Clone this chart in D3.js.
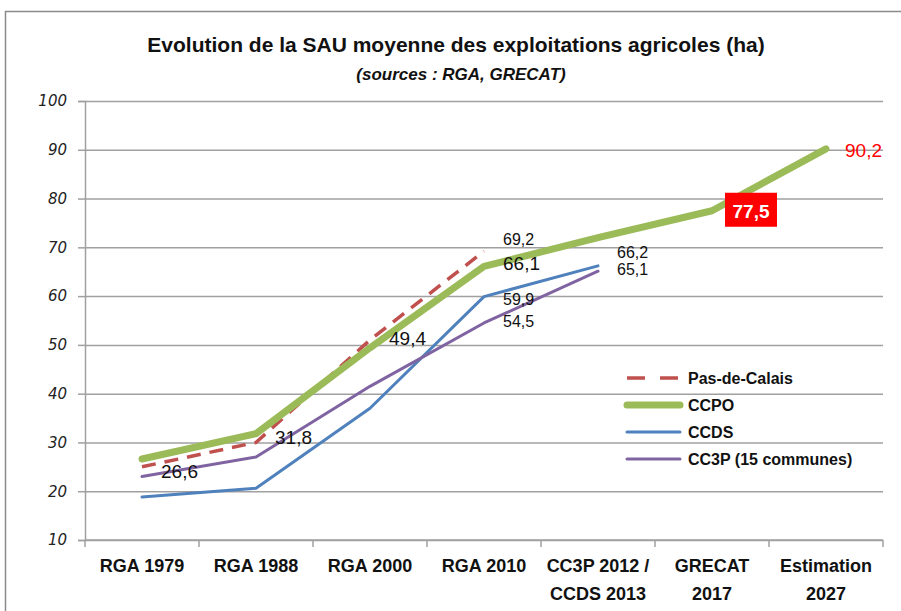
<!DOCTYPE html>
<html>
<head>
<meta charset="utf-8">
<title>SAU moyenne</title>
<script src="https://cdn.jsdelivr.net/npm/d3@7/dist/d3.min.js"></script>
<style>
    body {margin: 0; background: #fff;}
    svg text {font-family: "Liberation Sans", Arial, sans-serif;}
    .grid line {stroke: #a0a0a0; stroke-width: 1.5;}
    .grid path {display: none;}
    .axis path, .axis line {stroke: #a0a0a0; stroke-width: 1.5;}
    .yaxis text {font-family: "DejaVu Sans", sans-serif; font-style: italic; font-size: 15px; fill: #222;}
    .xlab {font-weight: bold; font-size: 18px; fill: #111;}
</style>
</head>
<body>
<div id="chart"></div>
<script>
const categories = ["RGA 1979", "RGA 1988", "RGA 2000", "RGA 2010", "CC3P 2012 /|CCDS 2013", "GRECAT|2017", "Estimation|2027"];
const yTicks = [10, 20, 30, 40, 50, 60, 70, 80, 90, 100];

const seriesNames = ["Pas-de-Calais", "CCPO", "CCDS", "CC3P (15 communes)"];
const pasDeCalais = [25, 30, 51, 69.2, null, null, null];
const ccpo = [26.6, 31.8, 49.4, 66.1, 72, 77.5, 90.2];
const ccds = [18.8, 20.6, 37, 59.9, 66.2, null, null];
const cc3p = [23, 27, 41.5, 54.5, 65.1, null, null];

// labelled points: [series index, category index, text]
const labels = [
    [1, 0, "26,6"], [1, 1, "31,8"], [1, 2, "49,4"], [1, 3, "66,1"],
    [0, 3, "69,2"], [2, 3, "59,9"], [3, 3, "54,5"],
    [2, 4, "66,2"], [3, 4, "65,1"],
    [1, 6, "90,2"]
];
const boxLabel = [1, 5, "77,5"];

const w = 901, h = 611;
const margin = {top: 101, left: 85, right: 18, bottom: 71};

const svg = d3.select("#chart").append("svg")
    .attr("width", w).attr("height", h);

svg.append("rect")
    .attr("x", 5.5).attr("y", 11.5)
    .attr("width", 905).attr("height", 620)
    .attr("fill", "#fff").attr("stroke", "#8a8a8a").attr("stroke-width", 1.5);

const x = d3.scaleBand().domain(d3.range(categories.length))
    .range([margin.left, w - margin.right]);
const y = d3.scaleLinear().domain([10, 100])
    .range([h - margin.bottom, margin.top]);

// title
svg.append("text").attr("x", 456).attr("y", 52)
    .attr("text-anchor", "middle").attr("font-weight", "bold").attr("font-size", 21)
    .attr("fill", "#111")
    .text("Evolution de la SAU moyenne des exploitations agricoles (ha)");
svg.append("text").attr("x", 461).attr("y", 80)
    .attr("text-anchor", "middle").attr("font-weight", "bold").attr("font-style", "italic")
    .attr("font-size", 17).attr("fill", "#111")
    .text("(sources : RGA, GRECAT)");

// grid
svg.append("g").attr("class", "grid")
    .attr("transform", `translate(${margin.left},0)`)
    .call(d3.axisRight(y).tickValues(yTicks).tickSize(w - margin.right - margin.left).tickFormat(""));

// y axis
svg.append("g").attr("class", "axis yaxis")
    .attr("transform", `translate(${margin.left},0)`)
    .call(d3.axisLeft(y).tickValues(yTicks).tickSizeOuter(0).tickSize(7).tickPadding(11));

// x axis with ticks at category boundaries
const xAxisG = svg.append("g").attr("class", "axis")
    .attr("transform", `translate(0,${y(10)})`);
xAxisG.append("line").attr("x1", margin.left).attr("x2", w - margin.right)
    .attr("y1", 0).attr("y2", 0);
xAxisG.selectAll(".tk").data(d3.range(categories.length + 1)).join("line")
    .attr("class", "tk")
    .attr("x1", d => d < categories.length ? x(d) : x(d - 1) + x.bandwidth())
    .attr("x2", d => d < categories.length ? x(d) : x(d - 1) + x.bandwidth())
    .attr("y1", 0).attr("y2", 7);

const xl = svg.append("g").selectAll("text").data(categories).join("text")
    .attr("class", "xlab")
    .attr("text-anchor", "middle")
    .attr("transform", (d, i) => `translate(${x(i) + x.bandwidth() / 2},${y(10) + 32})`);
xl.selectAll("tspan").data(d => d.split("|")).join("tspan")
    .attr("x", 0).attr("dy", (d, i) => i ? 28 : 0)
    .text(d => d);

// lines
const allSeries = [pasDeCalais, ccpo, ccds, cc3p];
const colors = ["#C0504D", "#9BBB59", "#4F81BD", "#8064A2"];
const widths = [3.5, 7, 3, 3];
const dashes = ["14,9", null, null, null];

const line = d3.line()
    .defined(d => d != null)
    .x((d, i) => x(i) + x.bandwidth() / 2)
    .y(d => y(d));

svg.append("g").selectAll("path").data(allSeries).join("path")
    .attr("d", line)
    .attr("fill", "none")
    .attr("stroke", (d, i) => colors[i])
    .attr("stroke-width", (d, i) => widths[i])
    .attr("stroke-dasharray", (d, i) => dashes[i])
    .attr("stroke-linecap", (d, i) => dashes[i] ? "butt" : "round")
    .attr("stroke-linejoin", "round");

// data labels
const px = i => x(i) + x.bandwidth() / 2;
const labelDy = {"26,6": 19, "31,8": 10, "49,4": -3, "66,1": 4, "69,2": -6, "59,9": 8, "54,5": 4, "66,2": -8, "65,1": 4, "90,2": 8};
svg.append("g").selectAll("text").data(labels).join("text")
    .attr("x", d => px(d[1]) + 19)
    .attr("y", d => y(allSeries[d[0]][d[1]]) + labelDy[d[2]])
    .attr("font-size", d => d[0] === 1 ? 19 : 16)
    .attr("fill", d => d[1] === 6 ? "#FF0000" : "#111")
    .text(d => d[2]);

const bx = px(boxLabel[1]), by = y(allSeries[boxLabel[0]][boxLabel[1]]);
svg.append("rect").attr("x", bx + 13).attr("y", by - 18)
    .attr("width", 52).attr("height", 34).attr("fill", "#FF0000");
svg.append("text").attr("x", bx + 39).attr("y", by + 7)
    .attr("text-anchor", "middle").attr("font-weight", "bold").attr("font-size", 19)
    .attr("fill", "#fff").text(boxLabel[2]);

// legend
const lg = svg.append("g").attr("transform", "translate(625,378)");
const li = lg.selectAll("g").data(seriesNames).join("g")
    .attr("transform", (d, i) => `translate(0,${i * 27})`);
li.append("line").attr("x1", 2).attr("x2", 55).attr("y1", 0).attr("y2", 0)
    .attr("stroke", (d, i) => colors[i])
    .attr("stroke-width", (d, i) => i === 1 ? 7 : (i === 0 ? 3.5 : 3))
    .attr("stroke-dasharray", (d, i) => i === 0 ? "18,15" : null)
    .attr("stroke-linecap", (d, i) => i === 0 ? "butt" : "round");
li.append("text").attr("x", 63).attr("y", 6)
    .attr("font-weight", "bold").attr("font-size", 16).attr("fill", "#111")
    .text(d => d);
</script>
</body>
</html>
